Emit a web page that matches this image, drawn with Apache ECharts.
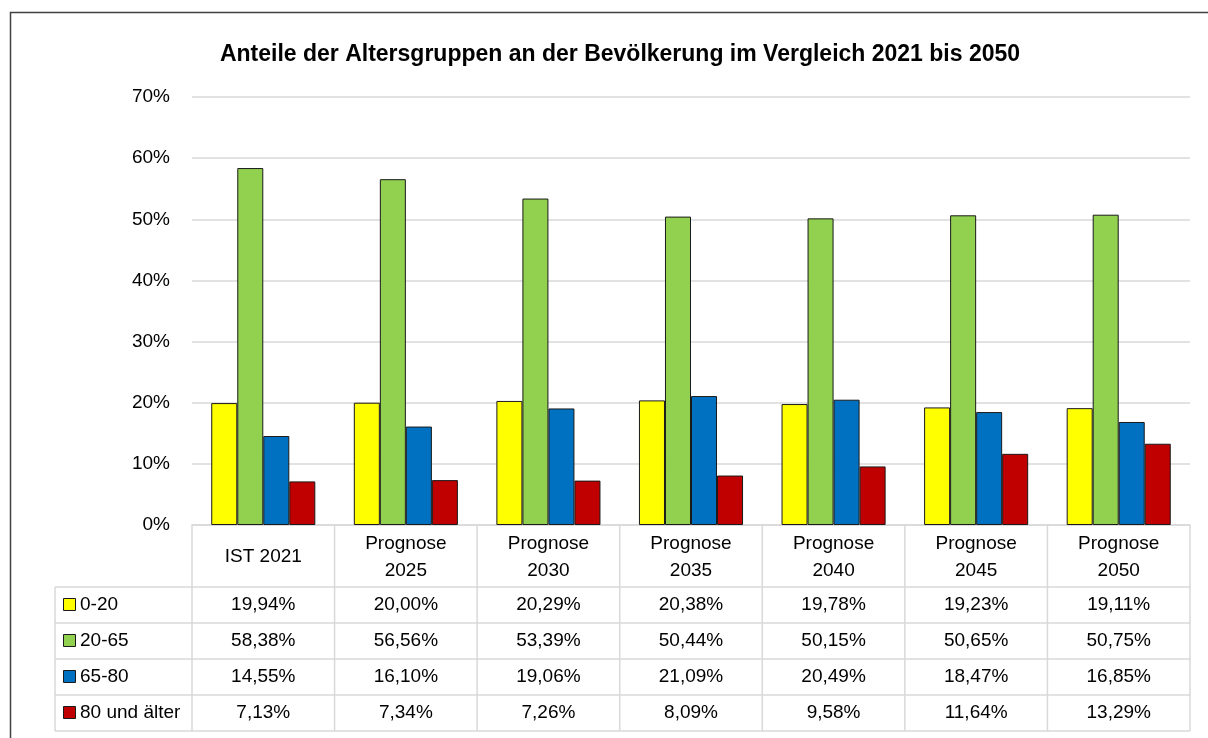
<!DOCTYPE html>
<html lang="de">
<head>
    <meta charset="UTF-8">
    <title>Altersgruppen</title>
    <script src="https://cdn.jsdelivr.net/npm/echarts@6/dist/echarts.min.js"></script>
    <style>
        html, body { margin: 0; padding: 0; background: #fff; }
        #main { width: 1208px; height: 738px; }
    </style>
</head>
<body>
<div id="main"></div>
<script type="text/javascript">
    // Kategorien (Spaltenkoepfe der Tabelle)
    var categories = ['IST 2021', 'Prognose\n2025', 'Prognose\n2030', 'Prognose\n2035', 'Prognose\n2040', 'Prognose\n2045', 'Prognose\n2050']
    // Altersgruppen
    var groupNames = ['0-20', '20-65', '65-80', '80 und älter']
    // Anteile in %
    var values0020 = [19.94, 20.00, 20.29, 20.38, 19.78, 19.23, 19.11]
    var values2065 = [58.38, 56.56, 53.39, 50.44, 50.15, 50.65, 50.75]
    var values6580 = [14.55, 16.10, 19.06, 21.09, 20.49, 18.47, 16.85]
    var values80plus = [7.13, 7.34, 7.26, 8.09, 9.58, 11.64, 13.29]
    // y-Achse
    var yTicks = [0, 10, 20, 30, 40, 50, 60, 70]

    var seriesValues = [values0020, values2065, values6580, values80plus]
    var colors = ['#FFFF00', '#92D050', '#0070C0', '#C00000']
    var font = "'Liberation Sans', Arial, sans-serif"
    var lineColor = '#d9d9d9'

    var chart = echarts.init(document.getElementById('main'))

    var series = []
    for (var i = 0; i < groupNames.length; i++) {
        series.push({
            name: groupNames[i],
            type: 'bar',
            data: seriesValues[i],
            barGap: '0%',
            barCategoryGap: '27%',
            itemStyle: {color: colors[i], borderColor: '#1a1a1a', borderWidth: 1},
            emphasis: {disabled: true}
        })
    }

    var option = {
        animation: false,
        title: {
            text: 'Anteile der Altersgruppen an der Bevölkerung im Vergleich 2021 bis 2050',
            left: 615,
            textAlign: 'center',
            top: 38,
            textStyle: {fontFamily: font, fontSize: 23, fontWeight: 'bold', color: '#000'}
        },
        grid: {left: 192, right: 18, top: 97, bottom: 213},
        xAxis: {
            type: 'category',
            data: categories,
            axisLine: {lineStyle: {color: lineColor, width: 1.5}},
            axisTick: {show: false},
            axisLabel: {
                interval: 0,
                margin: 32,
                verticalAlign: 'middle',
                fontFamily: font, fontSize: 19, lineHeight: 27, color: '#000'
            }
        },
        yAxis: {
            type: 'value',
            min: yTicks[0],
            max: yTicks[yTicks.length - 1],
            interval: 10,
            axisLine: {show: false},
            axisTick: {show: false},
            axisLabel: {
                formatter: '{value}%',
                margin: 22,
                fontFamily: font, fontSize: 19, color: '#000'
            },
            splitLine: {lineStyle: {color: lineColor, width: 1.5}}
        },
        series: series
    }
    chart.setOption(option)

    // Datentabelle unterhalb der Achse, Positionen aus den Achsen abgeleitet
    var y0 = chart.convertToPixel({yAxisIndex: 0}, 0)
    var c0 = chart.convertToPixel({xAxisIndex: 0}, 0)
    var c1 = chart.convertToPixel({xAxisIndex: 0}, 1)
    var colW = c1 - c0
    var tableLeft = c0 - colW / 2
    var tableRight = tableLeft + colW * categories.length
    var headerH = 62
    var rowH = 36
    var labelLeft = 55
    var rowTop = y0 + headerH

    var graphic = []
    // Rahmen
    graphic.push({
        type: 'rect', z: 0, silent: true,
        shape: {x: 10.5, y: 12.5, width: 1400, height: 1000},
        style: {fill: 'none', stroke: '#404040', lineWidth: 1.5}
    })
    // senkrechte Linien
    for (var k = 0; k <= categories.length; k++) {
        var x = tableLeft + k * colW
        graphic.push({
            type: 'line', silent: true,
            shape: {x1: x, y1: y0, x2: x, y2: rowTop + rowH * groupNames.length},
            style: {stroke: lineColor, lineWidth: 1.5}
        })
    }
    graphic.push({
        type: 'line', silent: true,
        shape: {x1: labelLeft, y1: rowTop, x2: labelLeft, y2: rowTop + rowH * groupNames.length},
        style: {stroke: lineColor, lineWidth: 1.5}
    })
    // waagrechte Linien
    for (var r = 0; r <= groupNames.length; r++) {
        var y = rowTop + r * rowH
        graphic.push({
            type: 'line', silent: true,
            shape: {x1: labelLeft, y1: y, x2: tableRight, y2: y},
            style: {stroke: lineColor, lineWidth: 1.5}
        })
    }
    // Zeilen
    for (var r = 0; r < groupNames.length; r++) {
        var cy = rowTop + r * rowH + rowH / 2
        graphic.push({
            type: 'rect', silent: true,
            shape: {x: 63.5, y: cy - 6.5, width: 12, height: 12},
            style: {fill: colors[r], stroke: '#1a1a1a', lineWidth: 1}
        })
        graphic.push({
            type: 'text', silent: true,
            style: {
                x: 80, y: cy, text: groupNames[r], textVerticalAlign: 'middle',
                font: '19px ' + font, fill: '#000'
            }
        })
        for (var c = 0; c < categories.length; c++) {
            graphic.push({
                type: 'text', silent: true,
                style: {
                    x: chart.convertToPixel({xAxisIndex: 0}, c), y: cy,
                    text: seriesValues[r][c].toFixed(2).replace('.', ',') + '%',
                    textAlign: 'center', textVerticalAlign: 'middle',
                    font: '19px ' + font, fill: '#000'
                }
            })
        }
    }
    chart.setOption({graphic: graphic})
</script>
</body>
</html>
